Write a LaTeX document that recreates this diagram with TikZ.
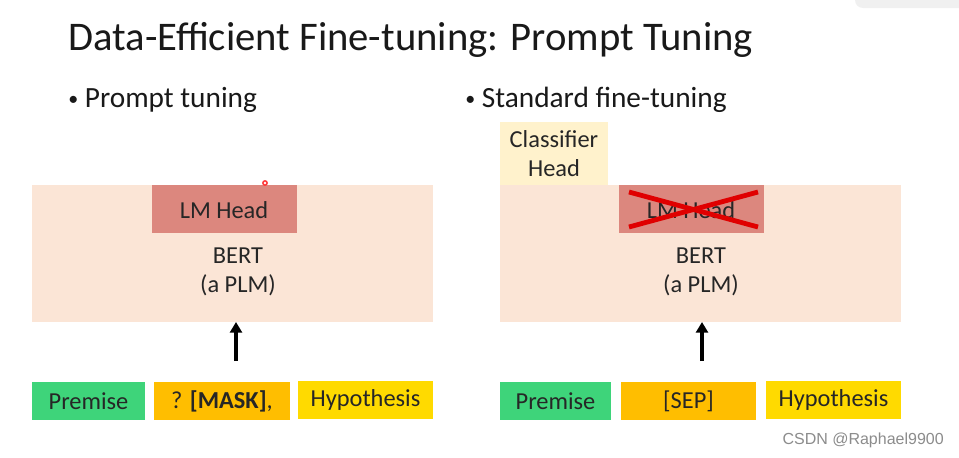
\documentclass[tikz,border=0pt]{standalone}
\usepackage{fontspec}
\setmainfont{Carlito}
\newfontfamily\wmfont{Liberation Sans}
\usetikzlibrary{arrows.meta}
\definecolor{bertbg}{HTML}{FBE5D6}
\definecolor{lmhead}{HTML}{DC877E}
\definecolor{clshead}{HTML}{FFF2CC}
\definecolor{premc}{HTML}{3ED47A}
\definecolor{maskc}{HTML}{FFBE00}
\definecolor{hypc}{HTML}{FFDA00}
\definecolor{xred}{HTML}{E00000}
\newcommand{\smbullet}{{\fontsize{15}{15}\selectfont\raisebox{1pt}{\textbullet}}}
\tikzset{
  box/.style={draw=none, inner sep=0pt, outer sep=0pt, anchor=north west},
  boxtext/.style={font=\fontsize{18.3}{21.75}\selectfont, text=black!85},
  upar/.style={-{Triangle[width=9pt,length=8pt]}, line width=2.4pt, black},
}
\begin{document}
\begin{tikzpicture}[x=0.75pt,y=-0.75pt]
\useasboundingbox (0,0) rectangle (959,457);
\fill[white] (0,0) rectangle (959,457);
% window corner artifact
\fill[black!6, rounded corners=6pt] (855,-10) rectangle (975,8);
% title
\node[anchor=base west, inner sep=0pt, font=\fontsize{30.5}{36}\selectfont, text=black!90] (title) at (68,50) {Data-Efficient Fine-tuning: Prompt Tuning};
\node[anchor=base west, inner sep=0pt, font=\fontsize{22}{26}\selectfont, text=black!90] (b1) at (68,107) {\smbullet\ Prompt tuning};
\node[anchor=base west, inner sep=0pt, font=\fontsize{22}{26}\selectfont, text=black!90] (b2) at (465,107) {\smbullet\ Standard fine-tuning};

% left BERT
\node[box, fill=bertbg, minimum width=301pt, minimum height=102.75pt] (bertL) at (32,185) {};
\node[box, fill=lmhead, minimum width=108.75pt, minimum height=36pt] (lmL) at (152,185) {};
\node[boxtext] (lmLt) at (224,210) {LM Head};
\node[boxtext, align=center] (bertLt) at (238,271.5) {BERT\\(a PLM)};
\fill[red!80] (265,183) circle (2.2pt);
\fill[white] (265,183) circle (1.1pt);

% left inputs
\node[box, fill=premc, minimum width=84.75pt, minimum height=28.5pt] (premL) at (32,382) {};
\node[boxtext] at (premL.center) {Premise};
\node[box, fill=maskc, minimum width=102pt, minimum height=28.5pt] (maskL) at (154,382) {};
\node[boxtext] at (maskL.center) {? \textbf{[MASK]},};
\node[box, fill=hypc, minimum width=101.25pt, minimum height=28.5pt] (hypL) at (298,381) {};
\node[boxtext] at (hypL.center) {Hypothesis};
\coordinate (aL) at (236,361);
\draw[upar] (aL) -- (aL |- bertL.south);

% right
\node[box, fill=clshead, minimum width=81pt, minimum height=47.25pt] (cls) at (500,122) {};
\node[boxtext, align=center] at (cls.center) {Classifier\\Head};
\node[box, fill=bertbg, minimum width=301pt, minimum height=102.75pt] (bertR) at (500,185) {};
\node[box, fill=lmhead, minimum width=108.75pt, minimum height=36pt] (lmR) at (619,185) {};
\node[boxtext] (lmRt) at (691,210) {LM Head};
\coordinate (x1) at (629,192);
\coordinate (x2) at (758,227);
\coordinate (x3) at (629,227);
\coordinate (x4) at (758,192);
\draw[xred, line width=3.6pt] (x1) -- (x2);
\draw[xred, line width=3.6pt] (x3) -- (x4);
\node[boxtext, align=center] (bertRt) at (701,271.5) {BERT\\(a PLM)};

\node[box, fill=premc, minimum width=83.25pt, minimum height=28.5pt] (premR) at (500,382) {};
\node[boxtext] at (premR.center) {Premise};
\node[box, fill=maskc, minimum width=101.25pt, minimum height=28.5pt] (sepR) at (621,382) {};
\node[boxtext] at (sepR.center) {[SEP]};
\node[box, fill=hypc, minimum width=101.25pt, minimum height=28.5pt] (hypR) at (766,381) {};
\node[boxtext] at (hypR.center) {Hypothesis};
\coordinate (aR) at (702,361);
\draw[upar] (aR) -- (aR |- bertR.south);

\node[anchor=base east, inner sep=0pt, font=\wmfont\fontsize{12}{14}\selectfont, text=black!45] (wm) at (944,444) {CSDN @Raphael9900};
\end{tikzpicture}
\end{document}
